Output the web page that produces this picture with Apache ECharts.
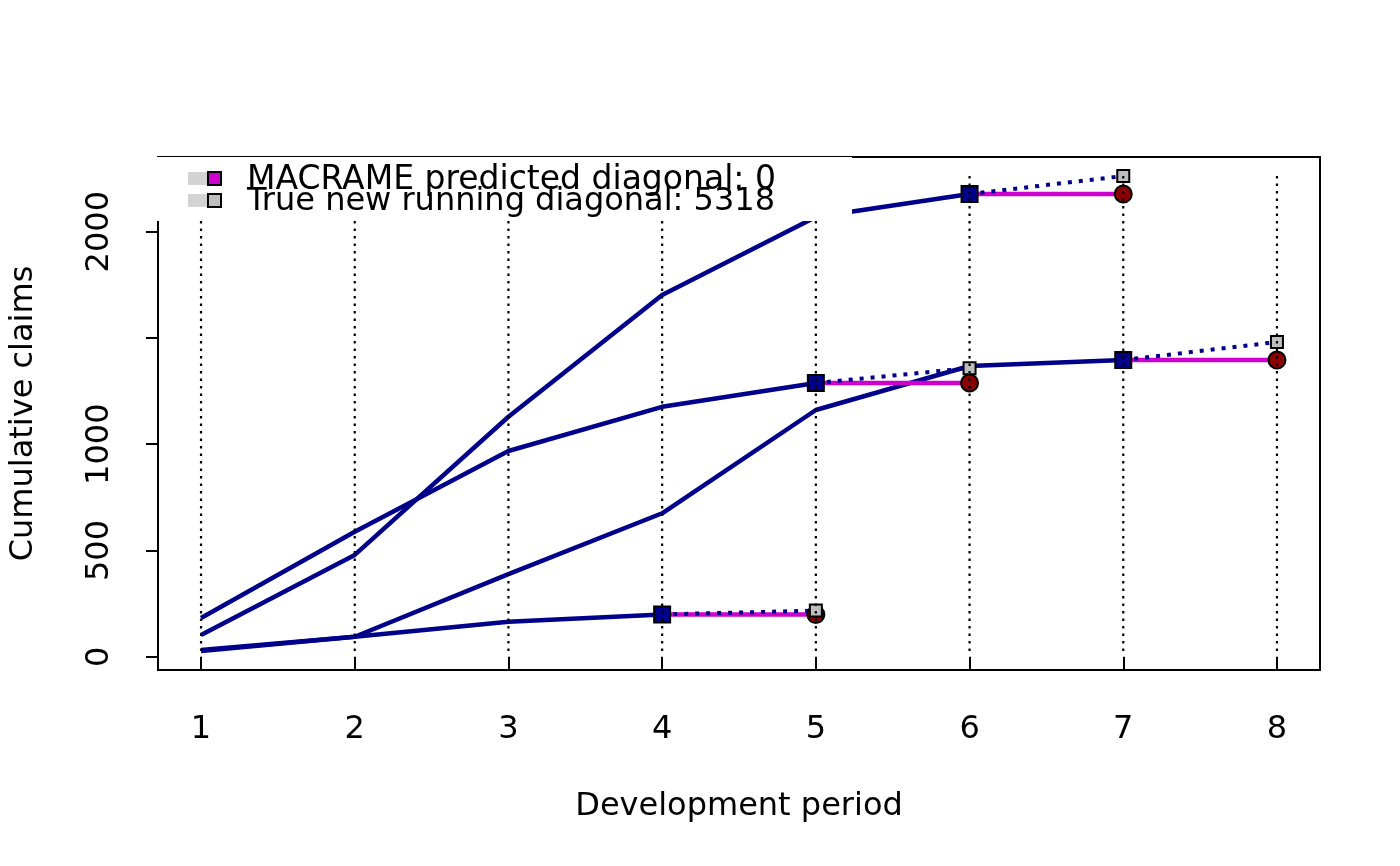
<!DOCTYPE html>
<html>
<head>
<meta charset="utf-8">
<script src="https://cdn.jsdelivr.net/npm/echarts@6/dist/echarts.min.js"></script>
<style>
html, body {margin: 0; background: #fff;}
#box {width: 1400px; height: 866px;}
</style>
</head>
<body>
<div id="box"></div>
<script>
// development periods (x axis)
let periods = [1, 2, 3, 4, 5, 6, 7, 8];

// cumulative claims per row, up to the latest known diagonal
let rowA = [182, 588, 968, 1176, 1288];
let rowB = [102, 479, 1129, 1702, 2069, 2177];
let rowC = [32, 94, 389, 675, 1161, 1368, 1396];
let rowD = [27, 94, 165, 199];
let rows = [rowA, rowB, rowC, rowD];

// next diagonal: MACRAME prediction and the true value
let predicted = [1288, 2177, 1396, 199];
let trueNew = [1358, 2262, 1481, 217];

// y ticks (R drops the 1500 label)
let yTicks = [0, 500, 1000, 1500, 2000];
let yLabels = [0, 500, 1000, 2000];

let legendText = ['MACRAME predicted diagonal: 0', 'True new running diagonal: 5318'];

const FONT = 'DejaVu Sans';
const BLUE = '#00008B';

// R style axis range: data range + 4% on each side
let allValues = [].concat(rowA, rowB, rowC, rowD, predicted, trueNew);
let lo = Math.min.apply(null, allValues);
let hi = Math.max.apply(null, allValues);
let yMin = lo - 0.04 * (hi - lo);
let yMax = hi + 0.04 * (hi - lo);
let xMin = periods[0] - 0.04 * (periods[periods.length - 1] - periods[0]);
let xMax = periods[periods.length - 1] + 0.04 * (periods[periods.length - 1] - periods[0]);

let chart = echarts.init(document.getElementById('box'));

let series = [];

// triangle rows
rows.forEach(function (r) {
    series.push({
        type: 'line',
        data: r.map(function (v, j) { return [periods[j], v]; }),
        symbol: 'none',
        lineStyle: {color: BLUE, width: 4.5},
        z: 2
    });
});

// predicted (magenta) then true (dotted) segments
rows.forEach(function (r, i) {
    let n = r.length;
    series.push({
        type: 'line',
        data: [[periods[n - 1], r[n - 1]], [periods[n], predicted[i]]],
        symbol: 'none',
        lineStyle: {color: '#CD00CD', width: 4.5},
        z: 3
    });
});
rows.forEach(function (r, i) {
    let n = r.length;
    series.push({
        type: 'line',
        data: [[periods[n - 1], r[n - 1]], [periods[n], trueNew[i]]],
        symbol: 'none',
        lineStyle: {color: BLUE, width: 4, type: [4, 7]},
        z: 3
    });
});

// points
series.push({
    type: 'scatter',
    data: rows.map(function (r) { return [periods[r.length - 1], r[r.length - 1]]; }),
    symbol: 'rect',
    symbolSize: 16,
    itemStyle: {color: BLUE, borderColor: '#000', borderWidth: 2, opacity: 1},
    z: 4
});
series.push({
    type: 'scatter',
    data: rows.map(function (r, i) { return [periods[r.length], predicted[i]]; }),
    symbol: 'circle',
    symbolSize: 17,
    itemStyle: {color: '#8B0000', borderColor: '#000', borderWidth: 2, opacity: 1},
    z: 4
});
series.push({
    type: 'scatter',
    data: rows.map(function (r, i) { return [periods[r.length], trueNew[i]]; }),
    symbol: 'rect',
    symbolSize: 12,
    itemStyle: {color: '#BEBEBE', borderColor: '#000', borderWidth: 2, opacity: 1},
    z: 4
});

// vertical dotted guides
periods.forEach(function (p) {
    series.push({
        type: 'line',
        data: [[p, lo], [p, hi]],
        symbol: 'none',
        lineStyle: {color: '#000', width: 2.2, type: [2.5, 5]},
        z: 5
    });
});

series.forEach(function (s) {
    s.silent = true;
    s.emphasis = {disabled: true};
});

let axisText = {color: '#000', fontSize: 32, fontFamily: FONT};

let option = {
    backgroundColor: '#fff',
    animation: false,
    grid: {
        left: 157, right: 80, top: 157, bottom: 196,
        show: true, borderColor: '#000', borderWidth: 2, backgroundColor: 'transparent'
    },
    xAxis: {
        type: 'value',
        min: xMin,
        max: xMax,
        splitLine: {show: false},
        axisLine: {show: false},
        axisTick: {show: true, customValues: periods, length: 13, lineStyle: {color: '#000', width: 2}},
        axisLabel: Object.assign({customValues: periods, margin: 44}, axisText),
        name: 'Development period',
        nameLocation: 'middle',
        nameGap: 121,
        nameTextStyle: axisText
    },
    yAxis: {
        type: 'value',
        min: yMin,
        max: yMax,
        splitLine: {show: false},
        axisLine: {show: false},
        axisTick: {show: true, customValues: yTicks, length: 12, lineStyle: {color: '#000', width: 2}},
        axisLabel: Object.assign({
            customValues: yLabels, rotate: 90, margin: 42,
            formatter: function (v) { return String(v); }
        }, axisText),
        name: 'Cumulative claims',
        nameLocation: 'middle',
        nameGap: 118,
        nameTextStyle: axisText
    },
    series: series,
    // legend drawn like R's legend(): white box over the plot
    graphic: [
        {type: 'rect', shape: {x: 157, y: 157, width: 695, height: 64}, style: {fill: '#fff'}, z: 10, silent: true},
        {type: 'rect', shape: {x: 188, y: 172, width: 20, height: 13}, style: {fill: '#D3D3D3'}, z: 11, silent: true},
        {type: 'rect', shape: {x: 208, y: 172, width: 13, height: 13}, style: {fill: '#CD00CD', stroke: '#000', lineWidth: 2}, z: 12, silent: true},
        {type: 'rect', shape: {x: 188, y: 194, width: 20, height: 13}, style: {fill: '#D3D3D3'}, z: 11, silent: true},
        {type: 'rect', shape: {x: 208, y: 194, width: 13, height: 13}, style: {fill: '#BEBEBE', stroke: '#000', lineWidth: 2}, z: 12, silent: true},
        {type: 'text', x: 247, y: 180, style: {text: legendText[0], fill: '#000', fontSize: 33, fontFamily: FONT, verticalAlign: 'middle'}, z: 12, silent: true},
        {type: 'text', x: 247, y: 202, style: {text: legendText[1], fill: '#000', fontSize: 32, fontFamily: FONT, verticalAlign: 'middle'}, z: 12, silent: true}
    ]
};

chart.setOption(option);
</script>
</body>
</html>
